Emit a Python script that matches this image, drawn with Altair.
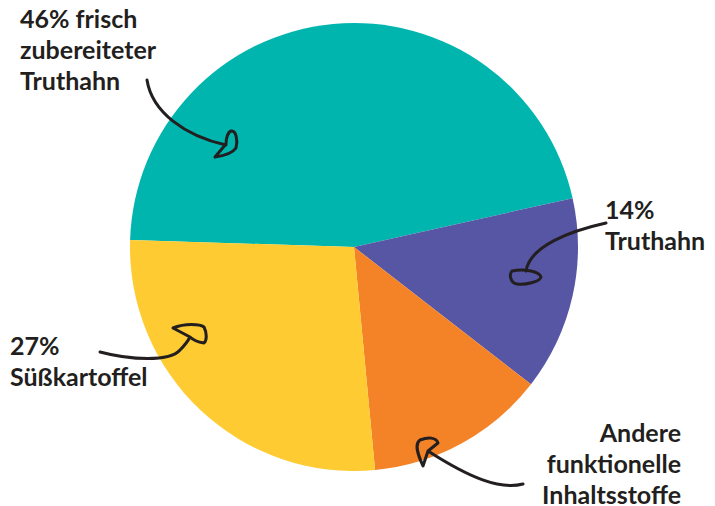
import altair as alt
import pandas as pd
import math

categories = ["frisch zubereiteter Truthahn", "Truthahn", "Andere funktionelle Inhaltsstoffe", "Süßkartoffel"]
values = [46, 14, 13, 27]
colors = ["#00B5AD", "#5756A4", "#F48226", "#FECB32"]

df = pd.DataFrame({"cat": categories, "value": values, "order": list(range(len(values)))})

start = math.radians(-88.2)
W, H = 699, 498
CX, CY = 346, 239
R = 224
INK = "#231F20"
FONT = "Lato"

pie = alt.Chart(df).mark_arc(radius=R).encode(
    theta=alt.Theta("value:Q", stack=True, scale=alt.Scale(range=[start, start + 2 * math.pi])),
    color=alt.Color("cat:N", scale=alt.Scale(domain=categories, range=colors), legend=None),
    order=alt.Order("order:Q"),
    x=alt.value(CX),
    y=alt.value(CY),
)

labels = [
    ("46% frisch\nzubereiteter\nTruthahn", 20, 28, "left"),
    ("14%\nTruthahn", 605, 219, "left"),
    ("27%\nSüßkartoffel", 10, 355, "left"),
    ("Andere\nfunktionelle\nInhaltsstoffe", 681, 442, "right"),
]

layers = [pie]
for txt, px, py, al in labels:
    layers.append(
        alt.Chart(pd.DataFrame({"t": [txt]})).mark_text(
            font=FONT, fontSize=25, fontWeight="bold", color=INK, align=al,
            baseline="alphabetic", lineBreak="\n", lineHeight=31,
        ).encode(text="t:N", x=alt.value(px - 8), y=alt.value(py - 8))
    )

arrows = [
    "M147,80 C152,112 185,136 226,145 "
    "M226,144 C226,138 228,132 231,131 C236,130 238,140 236,148 C232,154 222,156 215,157 Z",
    "M606,223 C570,231 530,246 526,271 "
    "M512,271 C525,268 540,272 541,277 C540,282 525,285 517,284 C510,283 509,274 512,271 Z",
    "M100,352 C130,360 170,362 180,350 C185,345 188,341 190,337 "
    "M190,337 L173,328 C185,323 200,324 204,327 C207,333 207,340 204,343 C198,342 193,340 190,337 Z",
    "M523,484 C500,490 470,478 428,451 "
    "M428,451 L438,443 C436,437 428,437 420,440 C414,444 418,455 423,466 Z",
]
for p in arrows:
    layers.append(
        alt.Chart(pd.DataFrame({"a": [0]})).mark_point(
            shape=p, size=4, filled=False, stroke=INK, strokeWidth=3, opacity=1,
            strokeCap="round", strokeJoin="round",
        ).encode(x=alt.value(-8), y=alt.value(-8))
    )

chart = alt.layer(*layers).properties(
    width=W, height=H, padding=0, background="white",
    autosize=alt.AutoSizeParams(type="none"),
).configure_view(stroke=None)

chart.save("out.html", embed_options={"renderer": "svg", "actions": False})
